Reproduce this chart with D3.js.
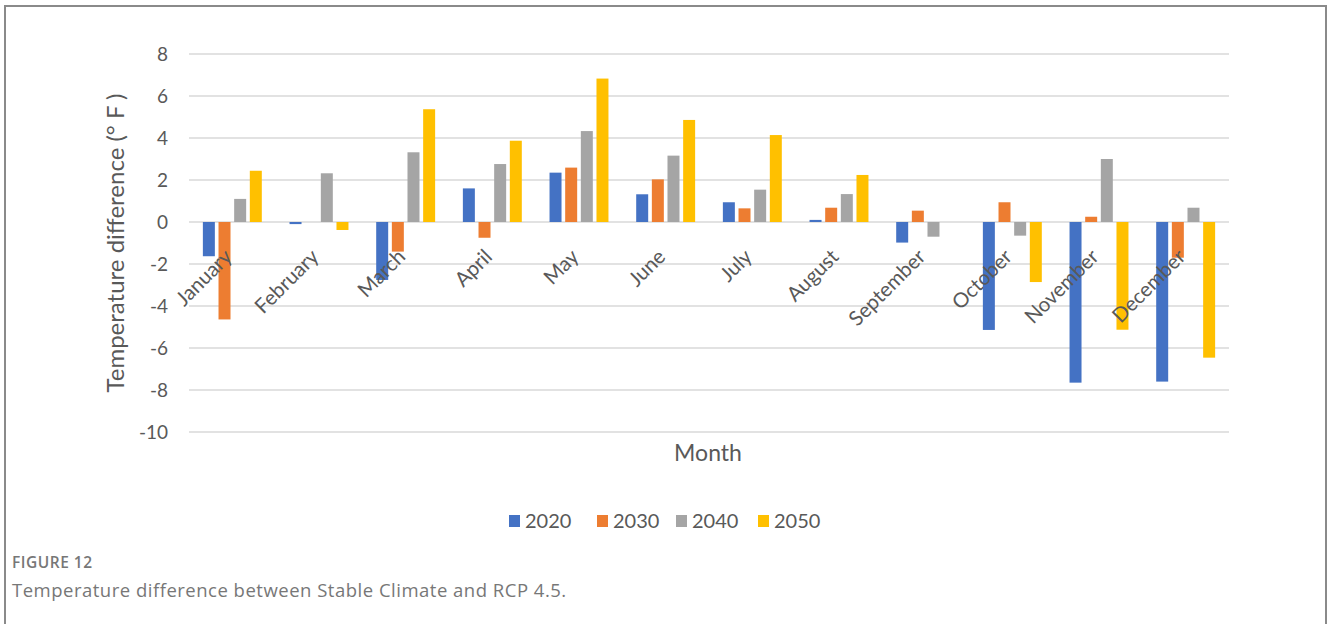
<!DOCTYPE html>
<html lang="en">
<head>
    <meta charset="UTF-8">
    <title>Temperature difference</title>
    <style type="text/css">
        * {
            margin: 0;
            padding: 0;
        }

        body {
            background: #fff;
        }

        #chart-area {
            width: 1328px;
            height: 624px;
        }
    </style>
</head>
<body>
<div id="chart-area"></div>
<script src="https://cdn.jsdelivr.net/npm/d3@7"></script>
<script type="text/javascript">

  const WIDTH = 1328
  const HEIGHT = 624

  const months = ['January', 'February', 'March', 'April', 'May', 'June',
    'July', 'August', 'September', 'October', 'November', 'December']
  const years = ['2020', '2030', '2040', '2050']
  const y2020 = [-1.63, -0.1, -2.76, 1.6, 2.35, 1.32, 0.94, 0.1, -0.98, -5.14, -7.65, -7.6]
  const y2030 = [-4.64, 0, -1.41, -0.75, 2.59, 2.03, 0.65, 0.68, 0.54, 0.94, 0.25, -1.7]
  const y2040 = [1.1, 2.32, 3.32, 2.76, 4.33, 3.16, 1.54, 1.33, -0.7, -0.65, 3.0, 0.68]
  const y2050 = [2.44, -0.38, 5.37, 3.87, 6.83, 4.86, 4.14, 2.24, 0, -2.86, -5.13, -6.46]
  const yTicks = [-10, -8, -6, -4, -2, 0, 2, 4, 6, 8]

  const seriesValues = [y2020, y2030, y2040, y2050]
  const colors = ['#4472c4', '#ed7d31', '#a5a5a5', '#ffc000']

  const FONT = 'Lato, "Open Sans", sans-serif'

  const svg = d3.select('#chart-area').append('svg')
      .attr('width', WIDTH)
      .attr('height', HEIGHT)
      .style('font-family', FONT)

  // frame (open at the bottom)
  svg.append('path')
      .attr('d', 'M5,630 L5,6 L1326,6 L1326,630')
      .attr('fill', 'none')
      .attr('stroke', '#8a8a8a')
      .attr('stroke-width', 2)

  const x0 = d3.scaleBand()
      .domain(months)
      .range([189, 1229])
      .paddingInner(0.32)
      .paddingOuter(0.16)

  const x1 = d3.scaleBand()
      .domain(years)
      .range([0, x0.bandwidth()])
      .paddingInner(0.234)

  const y = d3.scaleLinear()
      .domain([-10, 8])
      .range([432, 54])

  // gridlines
  svg.append('g')
      .selectAll('line')
      .data(yTicks)
      .enter()
      .append('line')
      .attr('x1', 189)
      .attr('x2', 1229)
      .attr('y1', (d) => y(d))
      .attr('y2', (d) => y(d))
      .attr('stroke', '#d9d9d9')
      .attr('stroke-width', 1.3)

  // y tick labels
  svg.append('g')
      .selectAll('text')
      .data(yTicks)
      .enter()
      .append('text')
      .attr('x', 168)
      .attr('y', (d) => y(d))
      .attr('dy', '0.35em')
      .attr('text-anchor', 'end')
      .attr('fill', '#595959')
      .attr('font-size', '19px')
      .text((d) => d)

  // bars
  const group = svg.append('g')
      .selectAll('g')
      .data(months)
      .enter()
      .append('g')
      .attr('transform', (d) => `translate(${x0(d)},0)`)

  group.selectAll('rect')
      .data((d, i) => years.map((yr, j) => ({ year: yr, value: seriesValues[j][i], color: colors[j] })))
      .enter()
      .append('rect')
      .attr('x', (d) => x1(d.year))
      .attr('width', x1.bandwidth())
      .attr('y', (d) => y(Math.max(0, d.value)))
      .attr('height', (d) => Math.abs(y(d.value) - y(0)))
      .attr('fill', (d) => d.color)

  // month labels
  svg.append('g')
      .selectAll('text')
      .data(months)
      .enter()
      .append('text')
      .attr('transform', (d) => `translate(${x0(d) + x0.bandwidth() / 2 + 1},258) rotate(-45)`)
      .attr('text-anchor', 'end')
      .attr('fill', '#595959')
      .attr('font-size', '20.5px')
      .text((d) => d)

  // axis titles
  svg.append('text')
      .attr('transform', `translate(124,${(y(8) + y(-10)) / 2}) rotate(-90)`)
      .attr('text-anchor', 'middle')
      .attr('fill', '#595959')
      .attr('font-size', '24px')
      .text('Temperature difference (° F )')

  svg.append('text')
      .attr('x', 708)
      .attr('y', 461)
      .attr('text-anchor', 'middle')
      .attr('fill', '#595959')
      .attr('font-size', '23px')
      .text('Month')

  // legend
  const legendX = [509, 597, 676, 758]
  const legend = svg.append('g')
      .selectAll('g')
      .data(years)
      .enter()
      .append('g')
      .attr('transform', (d, i) => `translate(${legendX[i]},521)`)

  legend.append('rect')
      .attr('x', 0)
      .attr('y', -6)
      .attr('width', 11)
      .attr('height', 12)
      .attr('fill', (d, i) => colors[i])

  legend.append('text')
      .attr('x', 16)
      .attr('y', 0)
      .attr('dy', '0.35em')
      .attr('fill', '#595959')
      .attr('font-size', '20px')
      .text((d) => d)

  // caption
  svg.append('text')
      .attr('x', 12)
      .attr('y', 568)
      .attr('fill', '#777')
      .attr('font-family', '"Open Sans", sans-serif')
      .attr('font-size', '15.5px')
      .attr('font-weight', '600')
      .attr('letter-spacing', '0.5px')
      .text('FIGURE 12')

  svg.append('text')
      .attr('x', 12)
      .attr('y', 597)
      .attr('fill', '#777')
      .attr('font-family', '"Open Sans", sans-serif')
      .attr('font-size', '18.5px')
      .attr('letter-spacing', '0.5px')
      .text('Temperature difference between Stable Climate and RCP 4.5.')

</script>
</body>
</html>
